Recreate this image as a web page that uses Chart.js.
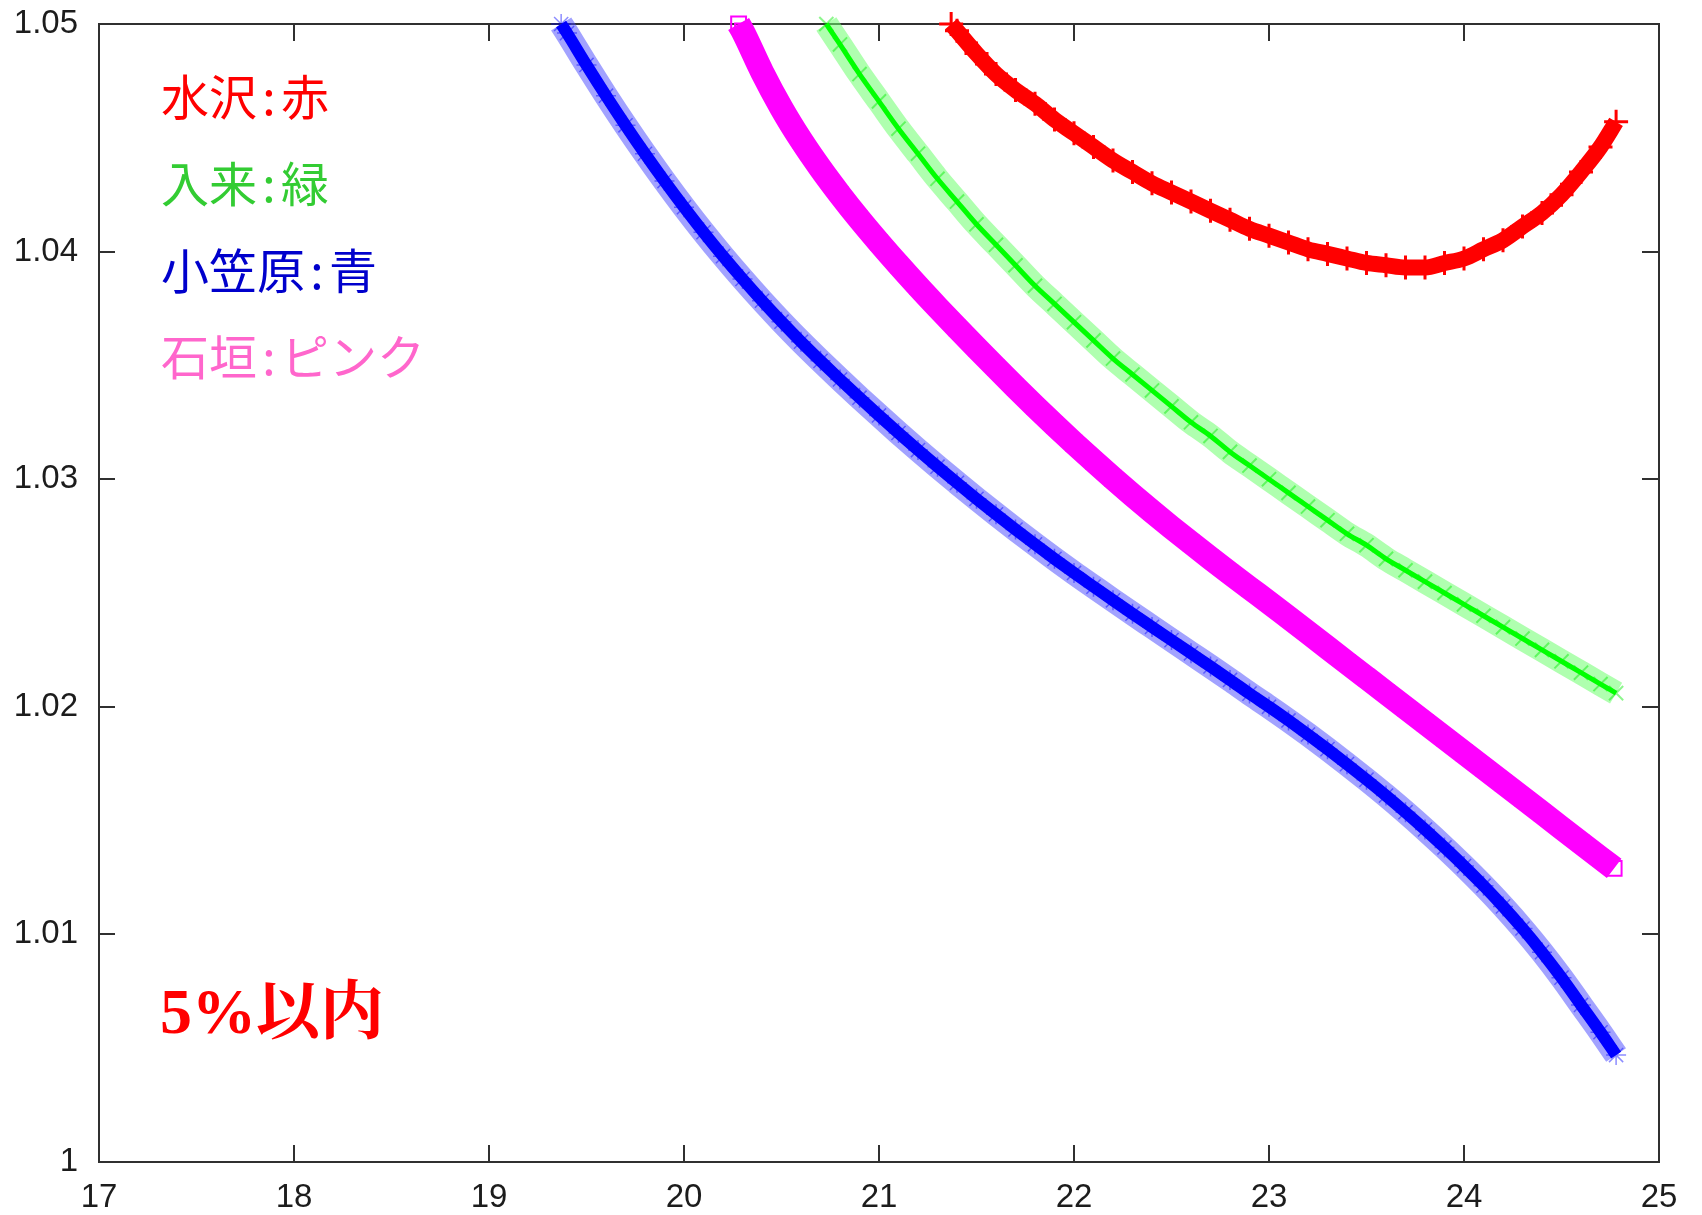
<!DOCTYPE html>
<html lang="ja">
<head>
<meta charset="utf-8">
<title>5%以内</title>
<script src="https://cdn.jsdelivr.net/npm/chart.js@4.4.0/dist/chart.umd.min.js"></script>
<style>
  html, body { margin: 0; padding: 0; background: #ffffff; }
  #wrap { width: 1702px; height: 1215px; }
</style>
</head>
<body>
<div id="wrap"><canvas id="chart" width="1702" height="1215"></canvas></div>
<script>
// Axis ticks
const xTickValues = [17, 18, 19, 20, 21, 22, 23, 24, 25];
const yTickValues = [1.00, 1.01, 1.02, 1.03, 1.04, 1.05];
const yTickLabels = ['1', '1.01', '1.02', '1.03', '1.04', '1.05'];

// Station captions (name : colour word)
const stationNames = ['水沢', '入来', '小笠原', '石垣'];
const colourWords = ['赤', '緑', '青', 'ピンク'];
const noteText = '5%以内';

// 水沢 (red)
const mizusawa = [
  [21.37, 1.0500], [21.4, 1.0497], [21.5, 1.0487], [21.6, 1.0478], [21.7, 1.0471],
  [21.8, 1.0465], [21.9, 1.0458], [22.0, 1.0452], [22.1, 1.0446], [22.2, 1.0440],
  [22.3, 1.0435], [22.4, 1.0430], [22.5, 1.0426], [22.6, 1.0422], [22.7, 1.0418],
  [22.8, 1.0414], [22.9, 1.0410], [23.0, 1.0407], [23.1, 1.0404], [23.2, 1.0401],
  [23.3, 1.0399], [23.4, 1.0397], [23.5, 1.0395], [23.6, 1.0394], [23.7, 1.0393],
  [23.8, 1.0393], [23.9, 1.0395], [24.0, 1.0397], [24.1, 1.0401], [24.2, 1.0405],
  [24.3, 1.0411], [24.4, 1.0417], [24.5, 1.0425], [24.6, 1.0435], [24.7, 1.0446],
  [24.78, 1.0457]
];

// 入来 (green)
const iriki = [
  [20.73, 1.0500], [20.8, 1.0491], [20.9, 1.0478], [21.0, 1.0466], [21.1, 1.0454],
  [21.2, 1.0443], [21.3, 1.0432], [21.4, 1.0422], [21.5, 1.0412], [21.6, 1.0403],
  [21.7, 1.0394], [21.8, 1.0385], [21.9, 1.0377], [22.0, 1.0369], [22.1, 1.0361],
  [22.2, 1.0353], [22.3, 1.0346], [22.4, 1.0339], [22.5, 1.0332], [22.6, 1.0325],
  [22.7, 1.0319], [22.8, 1.0312], [22.9, 1.0306], [23.0, 1.0300], [23.1, 1.0294],
  [23.2, 1.0288], [23.3, 1.0282], [23.4, 1.0276], [23.5, 1.0271], [23.6, 1.0265],
  [23.7, 1.0260], [23.8, 1.0255], [23.9, 1.0250], [24.0, 1.0245], [24.1, 1.0240],
  [24.2, 1.0235], [24.3, 1.0230], [24.4, 1.0225], [24.5, 1.0220], [24.6, 1.0215],
  [24.7, 1.0210], [24.78, 1.0206]
];

// 小笠原 (blue)
const ogasawara = [
  [19.37, 1.0500], [19.4, 1.0496], [19.5, 1.0482], [19.6, 1.04685], [19.7, 1.04555],
  [19.8, 1.0443], [19.9, 1.0431], [20.0, 1.04195], [20.1, 1.04085], [20.2, 1.0398],
  [20.3, 1.0388], [20.4, 1.03784], [20.5, 1.03692], [20.6, 1.03604], [20.7, 1.0352],
  [20.8, 1.03438], [20.9, 1.03358], [21.0, 1.0328], [21.1, 1.03203], [21.2, 1.03128],
  [21.3, 1.03055], [21.4, 1.02984], [21.5, 1.02914], [21.6, 1.02846], [21.7, 1.02779],
  [21.8, 1.02714], [21.9, 1.0265], [22.0, 1.02588], [22.1, 1.02528], [22.2, 1.02468],
  [22.3, 1.02409], [22.4, 1.02351], [22.5, 1.02293], [22.6, 1.02235], [22.7, 1.02177],
  [22.8, 1.02118], [22.9, 1.02058], [23.0, 1.0200], [23.1, 1.0194], [23.2, 1.01878],
  [23.3, 1.01814], [23.4, 1.01748], [23.5, 1.0168], [23.6, 1.0161], [23.7, 1.01537],
  [23.8, 1.01461], [23.9, 1.01382], [24.0, 1.0130], [24.1, 1.01214], [24.2, 1.01123],
  [24.3, 1.01026], [24.4, 1.00922], [24.5, 1.0081], [24.6, 1.0069], [24.7, 1.0057],
  [24.78, 1.0047]
];

// 石垣 (magenta)
const ishigaki = [
  [20.28, 1.0500], [20.3, 1.0497], [20.4, 1.0479], [20.5, 1.0463], [20.6, 1.0449],
  [20.7, 1.04365], [20.8, 1.0425], [20.9, 1.04142], [21.0, 1.0404], [21.1, 1.03942],
  [21.2, 1.03847], [21.3, 1.03755], [21.4, 1.03665], [21.5, 1.03577], [21.6, 1.0349],
  [21.7, 1.03404], [21.8, 1.0332], [21.9, 1.03238], [22.0, 1.03158], [22.1, 1.0308],
  [22.2, 1.03004], [22.3, 1.0293], [22.4, 1.02858], [22.5, 1.02788], [22.6, 1.0272],
  [22.7, 1.02653], [22.8, 1.02587], [22.9, 1.02522], [23.0, 1.02458], [23.1, 1.02392],
  [23.2, 1.02326], [23.3, 1.0226], [23.4, 1.02194], [23.5, 1.02128], [23.6, 1.02062],
  [23.7, 1.01996], [23.8, 1.0193], [23.9, 1.01864], [24.0, 1.01798], [24.1, 1.01732],
  [24.2, 1.01666], [24.3, 1.016], [24.4, 1.01534], [24.5, 1.01468], [24.6, 1.01402],
  [24.7, 1.01336], [24.77, 1.0129]
];

const toXY = pts => pts.map(([x, y]) => ({ x, y }));
const overTop = { left: 0, top: 14, right: 14, bottom: 0 };
const smooth = { cubicInterpolationMode: 'monotone' };

const FRAME = '#303030';

// Box frame with inward tick marks on all four sides
const frameTicks = {
  id: 'frameTicks',
  beforeDatasetsDraw(chart) {
    const { ctx, chartArea: { left, right, top, bottom }, scales: { x, y } } = chart;
    ctx.save();
    ctx.strokeStyle = FRAME;
    ctx.lineWidth = 2;
    ctx.strokeRect(left, top, right - left, bottom - top);
    ctx.beginPath();
    xTickValues.forEach(v => {
      const px = Math.round(x.getPixelForValue(v));
      ctx.moveTo(px, bottom); ctx.lineTo(px, bottom - 17);
      ctx.moveTo(px, top); ctx.lineTo(px, top + 17);
    });
    yTickValues.forEach(v => {
      const py = Math.round(y.getPixelForValue(v));
      ctx.moveTo(left, py); ctx.lineTo(left + 16, py);
      ctx.moveTo(right, py); ctx.lineTo(right - 17, py);
    });
    ctx.stroke();
    ctx.restore();
  }
};

// Station captions and the tolerance note
const captions = {
  id: 'captions',
  afterDatasetsDraw(chart) {
    const { ctx } = chart;
    const colours = ['#ff0000', '#33cc33', '#0000cc', '#ff66cc'];
    const rows = [97, 184, 271, 357];
    ctx.save();
    ctx.font = '48px "Noto Sans CJK JP", "Noto Sans", sans-serif';
    ctx.textBaseline = 'middle';
    ctx.textAlign = 'left';
    stationNames.forEach((name, i) => {
      ctx.fillStyle = colours[i];
      const x0 = 161;
      const w = ctx.measureText(name).width;
      ctx.fillText(name, x0, rows[i]);
      ctx.textAlign = 'center';
      ctx.fillText(':', x0 + w + 12, rows[i]);
      ctx.textAlign = 'left';
      ctx.fillText(colourWords[i], x0 + w + 24, rows[i]);
    });
    ctx.fillStyle = '#ff0000';
    ctx.textBaseline = 'alphabetic';
    ctx.font = 'bold 64px "Liberation Serif", "Noto Serif CJK JP", "Noto Sans CJK JP", serif';
    ctx.fillText(noteText, 160, 1033);
    ctx.restore();
  }
};

new Chart(document.getElementById('chart'), {
  type: 'scatter',
  data: {
    datasets: [
      {
        label: '水沢', data: toXY(mizusawa), showLine: true, order: 1, clip: overTop, ...smooth,
        borderColor: '#ff0000', borderWidth: 16,
        pointStyle: 'cross', pointRadius: 12, pointBorderWidth: 3,
        pointBorderColor: '#ff0000', pointBackgroundColor: '#ff0000'
      },
      {
        label: '入来', data: toXY(iriki), showLine: true, order: 3, clip: overTop, ...smooth,
        borderColor: 'rgba(110,255,110,0.55)', borderWidth: 24,
        pointStyle: 'crossRot', pointRadius: 10, pointBorderWidth: 2,
        pointBorderColor: 'rgba(0,235,0,0.45)', pointBackgroundColor: 'rgba(0,0,0,0)'
      },
      {
        label: '入来', data: toXY(iriki), showLine: true, order: 2, clip: overTop, ...smooth,
        borderColor: '#00ff00', borderWidth: 5, pointRadius: 0
      },
      {
        label: '小笠原', data: toXY(ogasawara), showLine: true, order: 5, clip: overTop, ...smooth,
        borderColor: 'rgba(70,70,255,0.5)', borderWidth: 24,
        pointStyle: 'star', pointRadius: 10, pointBorderWidth: 1.5,
        pointBorderColor: 'rgba(0,0,255,0.45)', pointBackgroundColor: 'rgba(0,0,0,0)'
      },
      {
        label: '小笠原', data: toXY(ogasawara), showLine: true, order: 4, clip: overTop, ...smooth,
        borderColor: '#0000ff', borderWidth: 12, pointRadius: 0
      },
      {
        label: '石垣', data: toXY(ishigaki), showLine: true, order: 6, clip: overTop, ...smooth,
        borderColor: '#ff00ff', borderWidth: 24,
        pointStyle: 'rect', pointRadius: 10.5, pointBorderWidth: 2,
        pointBorderColor: '#ff00ff', pointBackgroundColor: 'rgba(0,0,0,0)'
      }
    ]
  },
  options: {
    responsive: false,
    animation: false,
    events: [],
    layout: { padding: { top: 24, right: 43, left: 0, bottom: 0 } },
    plugins: { legend: { display: false }, tooltip: { enabled: false } },
    scales: {
      x: {
        type: 'linear', min: 17, max: 25,
        afterFit(scale) { scale.height = 53; scale.paddingLeft = 0; scale.paddingRight = 0; },
        afterBuildTicks(scale) { scale.ticks = xTickValues.map(v => ({ value: v })); },
        border: { display: false },
        grid: { display: false, drawTicks: false },
        ticks: {
          padding: 16, color: '#1c1c1c', maxRotation: 0, autoSkip: false,
          font: { family: '"Liberation Sans", Arial, sans-serif', size: 33 },
          callback: v => String(v)
        }
      },
      y: {
        type: 'linear', min: 1.0, max: 1.05,
        afterFit(scale) { scale.width = 99; scale.paddingTop = 0; scale.paddingBottom = 0; },
        afterBuildTicks(scale) { scale.ticks = yTickValues.map(v => ({ value: v })); },
        border: { display: false },
        grid: { display: false, drawTicks: false },
        ticks: {
          padding: 21, color: '#1c1c1c', autoSkip: false,
          font: { family: '"Liberation Sans", Arial, sans-serif', size: 33 },
          callback: (v, i) => yTickLabels[i]
        }
      }
    }
  },
  plugins: [frameTicks, captions]
});
</script>
</body>
</html>
